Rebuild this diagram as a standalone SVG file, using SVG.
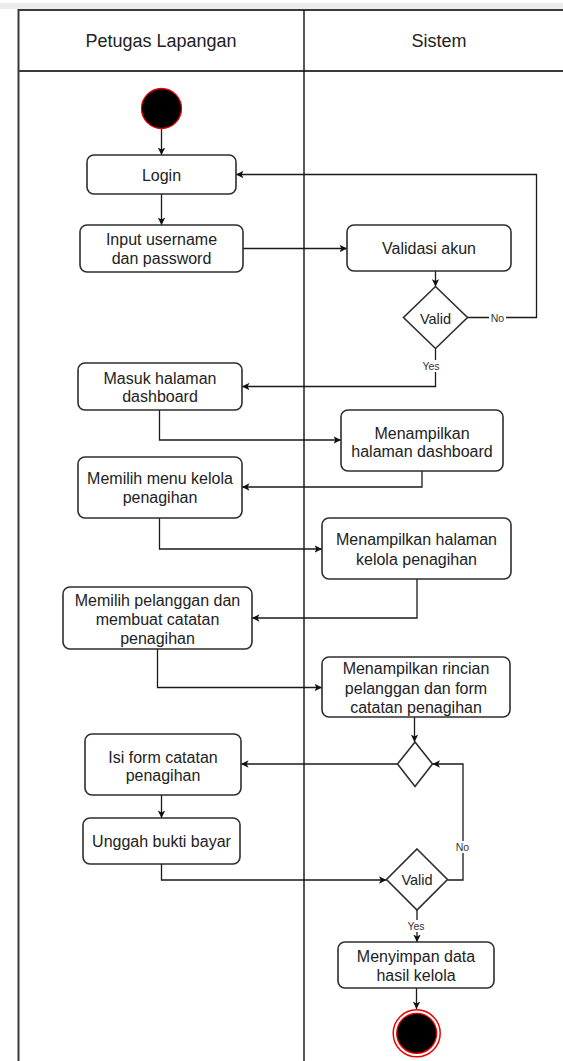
<svg xmlns="http://www.w3.org/2000/svg" width="563" height="1061" viewBox="0 0 563 1061">
  <defs>
    <style>
      .lane { fill: none; stroke: #3a3a3a; stroke-width: 2; }
      .divider { fill: none; stroke: #111; stroke-width: 1.4; }
      .box { fill: #fff; stroke: #2e2e2e; stroke-width: 1.6; }
      .dec { fill: #fff; stroke: #2e2e2e; stroke-width: 1.6; }
      .edge { fill: none; stroke: #1a1a1a; stroke-width: 1.3; marker-end: url(#arrow); }
      .txt { font-family: "Liberation Sans", Arial, sans-serif; font-size: 16px; fill: #222; text-anchor: middle; }
      .head { font-family: "Liberation Sans", Arial, sans-serif; font-size: 18px; fill: #222; text-anchor: middle; }
      .dtxt { font-family: "Liberation Sans", Arial, sans-serif; font-size: 14.5px; fill: #222; text-anchor: middle; }
      .lbl { font-family: "Liberation Sans", Arial, sans-serif; font-size: 10.5px; fill: #333; text-anchor: middle; }
      .lblbg { fill: #fff; }
    </style>
    <marker id="arrow" viewBox="0 0 10 10" refX="10" refY="5" markerWidth="7.5" markerHeight="7.5" markerUnits="userSpaceOnUse" orient="auto">
      <path d="M0,0 L10,5 L0,10 L2.5,5 z" fill="#111"/>
    </marker>
  </defs>

  <rect x="0" y="0" width="563" height="1061" fill="#fff"/>
  <rect x="0" y="3" width="563" height="6" fill="#ececec"/>

  <!-- swimlane frame -->
  <g id="swimlanes">
    <line class="lane" x1="18" y1="10" x2="563" y2="10"/>
    <line class="lane" x1="18" y1="71" x2="563" y2="71"/>
    <line class="lane" x1="18.5" y1="9" x2="18.5" y2="1061"/>
    <line class="divider" x1="304" y1="10" x2="304" y2="1061"/>
    <text class="head" x="161" y="46.5">Petugas Lapangan</text>
    <text class="head" x="439" y="46.5">Sistem</text>
  </g>

  <!-- connectors -->
  <g id="connectors">
    <path class="edge" d="M161.5,129 L161.5,155"/>
    <path class="edge" d="M161.5,194 L161.5,225"/>
    <path class="edge" d="M243,248.5 L347,248.5"/>
    <path class="edge" d="M435.5,271 L435.5,286.5"/>
    <path class="edge" d="M467.5,317.5 L536.5,317.5 L536.5,174.5 L236,174.5"/>
    <path class="edge" d="M435.5,348.5 L435.5,386.5 L242,386.5"/>
    <path class="edge" d="M159.5,410 L159.5,440 L341,440"/>
    <path class="edge" d="M422,471 L422,487 L242,487"/>
    <path class="edge" d="M159.5,518 L159.5,549 L322,549"/>
    <path class="edge" d="M417,579 L417,618 L252,618"/>
    <path class="edge" d="M157.5,649 L157.5,687.5 L322,687.5"/>
    <path class="edge" d="M414.5,717 L414.5,742"/>
    <path class="edge" d="M397.5,764 L241,764"/>
    <path class="edge" d="M161.5,795 L161.5,818"/>
    <path class="edge" d="M161.5,864 L161.5,880 L386.5,880"/>
    <path class="edge" d="M447.5,880 L463,880 L463,764 L432.5,764"/>
    <path class="edge" d="M417,910 L417,942"/>
    <path class="edge" d="M416.5,988 L416.5,1009"/>

    <rect class="lblbg" x="489" y="312" width="17" height="12"/>
    <text class="lbl" x="497.5" y="322">No</text>
    <rect class="lblbg" x="421" y="360" width="20" height="12"/>
    <text class="lbl" x="431" y="370">Yes</text>
    <rect class="lblbg" x="454" y="841" width="17" height="12"/>
    <text class="lbl" x="462.5" y="851">No</text>
    <rect class="lblbg" x="406" y="920" width="20" height="12"/>
    <text class="lbl" x="416" y="930">Yes</text>
  </g>

  <g id="start">
    <circle cx="161.5" cy="108.5" r="20" fill="#000" stroke="#e00" stroke-width="1.3"/>
  </g>

  <g id="login">
    <rect class="box" x="87" y="155" width="149" height="39" rx="7"/>
    <text class="txt" x="161.5" y="180.5">Login</text>
  </g>

  <g id="input-credentials">
    <rect class="box" x="80" y="225" width="163" height="47" rx="7"/>
    <text class="txt" x="161.5" y="245">Input username</text>
    <text class="txt" x="161.5" y="264">dan password</text>
  </g>

  <g id="validasi-akun">
    <rect class="box" x="347" y="225" width="164" height="46" rx="7"/>
    <text class="txt" x="429" y="253.5">Validasi akun</text>
  </g>

  <g id="decision-valid-1">
    <polygon class="dec" points="435.5,286.5 467.5,317.5 435.5,348.5 403.5,317.5"/>
    <text class="dtxt" x="435.5" y="323.5">Valid</text>
  </g>

  <g id="masuk-dashboard">
    <rect class="box" x="78" y="363" width="164" height="47" rx="7"/>
    <text class="txt" x="160" y="383.5">Masuk halaman</text>
    <text class="txt" x="160" y="402">dashboard</text>
  </g>

  <g id="tampil-dashboard">
    <rect class="box" x="341" y="410" width="162" height="61" rx="7"/>
    <text class="txt" x="422" y="438.5">Menampilkan</text>
    <text class="txt" x="422" y="457">halaman dashboard</text>
  </g>

  <g id="pilih-menu">
    <rect class="box" x="78" y="457" width="164" height="61" rx="7"/>
    <text class="txt" x="160" y="484">Memilih menu kelola</text>
    <text class="txt" x="160" y="503">penagihan</text>
  </g>

  <g id="tampil-kelola">
    <rect class="box" x="322" y="518" width="189" height="61" rx="7"/>
    <text class="txt" x="416.5" y="545">Menampilkan halaman</text>
    <text class="txt" x="416.5" y="564.5">kelola penagihan</text>
  </g>

  <g id="pilih-pelanggan">
    <rect class="box" x="63" y="587" width="189" height="62" rx="7"/>
    <text class="txt" x="157.5" y="605.5">Memilih pelanggan dan</text>
    <text class="txt" x="157.5" y="625">membuat catatan</text>
    <text class="txt" x="157.5" y="644">penagihan</text>
  </g>

  <g id="tampil-rincian">
    <rect class="box" x="322" y="657" width="188" height="60" rx="7"/>
    <text class="txt" x="416" y="674">Menampilkan rincian</text>
    <text class="txt" x="416" y="693.5">pelanggan dan form</text>
    <text class="txt" x="416" y="713">catatan penagihan</text>
  </g>

  <g id="merge">
    <polygon class="dec" points="415,742 432.5,764 415,786.5 397.5,764"/>
  </g>

  <g id="isi-form">
    <rect class="box" x="85" y="734" width="156" height="61" rx="7"/>
    <text class="txt" x="163" y="762.5">Isi form catatan</text>
    <text class="txt" x="163" y="781">penagihan</text>
  </g>

  <g id="unggah-bukti">
    <rect class="box" x="83" y="818" width="157" height="46" rx="7"/>
    <text class="txt" x="161.5" y="847">Unggah bukti bayar</text>
  </g>

  <g id="decision-valid-2">
    <polygon class="dec" points="417,849 447.5,879.5 417,910 386.5,879.5"/>
    <text class="dtxt" x="417" y="885">Valid</text>
  </g>

  <g id="simpan-data">
    <rect class="box" x="338" y="942" width="156" height="46" rx="7"/>
    <text class="txt" x="416" y="961.5">Menyimpan data</text>
    <text class="txt" x="416" y="981">hasil kelola</text>
  </g>

  <g id="end">
    <circle cx="416.7" cy="1033.3" r="23.5" fill="#fff" stroke="#e00" stroke-width="1.5"/>
    <circle cx="416.7" cy="1033.3" r="20" fill="#000" stroke="#e00" stroke-width="1.3"/>
  </g>
</svg>
